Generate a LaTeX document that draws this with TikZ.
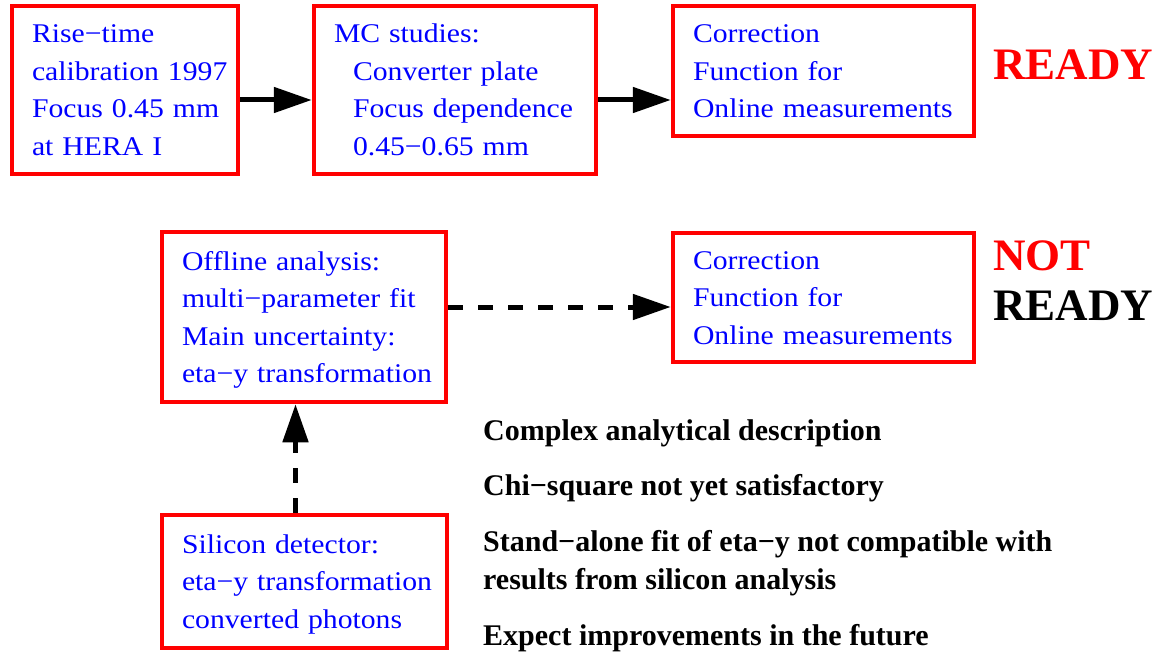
\documentclass[tikz,border=0pt]{standalone}
\usepackage{fontspec}
\setmainfont{Liberation Serif}
\newfontfamily\boxfont[FakeStretch=1.1]{Liberation Serif}
\usetikzlibrary{arrows.meta}

% rows of the box texts: fixed height on the first row, fixed depth on the last
\newcommand\toprow[1]{\raisebox{0pt}[19.5pt][0pt]{#1}}
\newcommand\midrow[1]{\mbox{#1}}
\newcommand\lastrow[1]{\raisebox{0pt}[0pt][1pt]{#1}}

\definecolor{boxred}{RGB}{255,0,0}
\definecolor{boxblue}{RGB}{0,0,255}

\tikzset{
  stagebox/.style={draw=boxred, line width=4.5pt, rectangle, fill=white,
    inner xsep=20pt, inner ysep=2pt, align=left, text=boxblue,
    font=\boxfont\fontsize{27}{37.5}\selectfont},
  flow/.style={line width=5pt, -{Triangle[length=38pt,width=25pt]}},
  dflow/.style={flow, dash pattern=on 15pt off 15pt},
  remark/.style={anchor=base west, inner sep=0pt, align=left,
    font=\bfseries\fontsize{30}{38}\selectfont},
  status/.style={anchor=base west, inner sep=0pt,
    font=\bfseries\fontsize{45}{54}\selectfont}
}

\begin{document}
\begin{tikzpicture}[x=1pt, y=-1pt]
\useasboundingbox (0,0) rectangle (1153,655);

% upper chain
\node[stagebox, minimum width=226pt, minimum height=168pt, text width=186pt] (rise) at (125,90)
  {\toprow{Rise−time}\\ \midrow{calibration 1997}\\ \midrow{Focus 0.45 mm}\\ \lastrow{at HERA I}};
\node[stagebox, minimum width=282pt, minimum height=168pt, text width=242pt] (mc) at (455,90)
  {\toprow{MC studies:}\\ \midrow{\hspace*{19pt}Converter plate}\\
   \midrow{\hspace*{19pt}Focus dependence}\\ \lastrow{\hspace*{19pt}0.45−0.65 mm}};
\node[stagebox, minimum width=301pt, minimum height=130pt, text width=261pt] (corr1) at (823.5,71)
  {\toprow{Correction}\\ \midrow{Function for}\\ \lastrow{Online measurements}};
\node[status, text=boxred] (ready1) at (993,80) {READY};

\draw[flow] ([yshift=-10pt]rise.east) -- ([yshift=-10pt]rise.east -| mc.west);
\draw[flow] ([yshift=-10pt]mc.east) -- ([yshift=-10pt]mc.east -| corr1.west);

% lower chain
\node[stagebox, minimum width=284pt, minimum height=170pt, text width=244pt] (offl) at (304,317)
  {\toprow{Offline analysis:}\\ \midrow{multi−parameter fit}\\
   \midrow{Main uncertainty:}\\ \lastrow{eta−y transformation}};
\node[stagebox, minimum width=301pt, minimum height=129pt, text width=261pt] (corr2) at (823.5,297.5)
  {\toprow{Correction}\\ \midrow{Function for}\\ \lastrow{Online measurements}};
\node[stagebox, minimum width=285pt, minimum height=133pt, text width=245pt] (si) at (304.5,581.5)
  {\toprow{Silicon detector:}\\ \midrow{eta−y transformation}\\ \lastrow{converted photons}};
\node[status, text=boxred] (notw) at (993,270) {NOT};
\node[status, text=black] (ready2) at (993,320) {READY};

\draw[dflow] ([yshift=10pt]offl.east) -- ([yshift=10pt]offl.east -| corr2.west);
\draw[dflow] ([xshift=-9pt]si.north) -- ([xshift=-9pt]si.north |- offl.south);

% open issues (the base of a two-line node is its last line)
\node[remark] (r1) at (483,440) {Complex analytical description};
\node[remark] (r2) at (483,495) {Chi−square not yet satisfactory};
\node[remark] (r3) at (483,589) {Stand−alone fit of eta−y not compatible with\\results from silicon analysis};
\node[remark] (r4) at (483,645) {Expect improvements in the future};
\end{tikzpicture}
\end{document}
